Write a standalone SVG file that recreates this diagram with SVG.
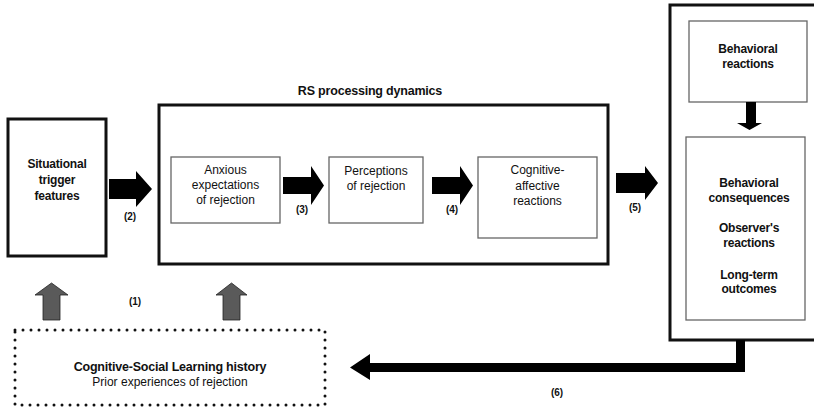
<svg xmlns="http://www.w3.org/2000/svg" width="814" height="408" viewBox="0 0 814 408">
<style>
text{font-family:"Liberation Sans",Arial,sans-serif;font-size:12px;fill:#111;text-anchor:middle}
.b{font-weight:bold;letter-spacing:-0.2px}
.thick{fill:#fff;stroke:#111;stroke-width:3}
.thin{fill:#fff;stroke:#666;stroke-width:1.3}
.arr{fill:#000}
.garr{fill:#5a5a5a;stroke:#222;stroke-width:0.8}
.lbl{font-weight:bold;font-size:10px}
</style>
<rect width="814" height="408" fill="#fff"/>
<g id="situational">
<rect class="thick" x="8" y="119" width="98" height="137"/>
<text class="b" x="57" y="168">Situational</text>
<text class="b" x="57" y="184">trigger</text>
<text class="b" x="57" y="200">features</text>
</g>
<g id="rs-processing">
<text class="b" x="370" y="95" style="font-size:12.5px">RS processing dynamics</text>
<rect class="thick" x="159" y="105" width="449" height="159"/>
</g>
<g id="anxious">
<rect class="thin" x="171" y="157" width="109" height="66"/>
<text x="225.5" y="174">Anxious</text>
<text x="225.5" y="189">expectations</text>
<text x="225.5" y="204">of rejection</text>
</g>
<g id="perceptions">
<rect class="thin" x="329" y="157" width="94" height="66"/>
<text x="376" y="175">Perceptions</text>
<text x="376" y="190">of rejection</text>
</g>
<g id="cognitive-affective">
<rect class="thin" x="478" y="157" width="119" height="81"/>
<text x="537.5" y="174">Cognitive-</text>
<text x="537.5" y="190">affective</text>
<text x="537.5" y="205">reactions</text>
</g>
<g id="outcomes-panel">
<rect class="thick" x="670" y="5" width="150" height="335"/>
</g>
<g id="behavioral-reactions">
<rect class="thin" x="689" y="21" width="118" height="81"/>
<text class="b" x="748" y="53">Behavioral</text>
<text class="b" x="748" y="68">reactions</text>
</g>
<g id="consequences">
<rect class="thin" x="686" y="137" width="119" height="183"/>
<text class="b" x="749" y="187">Behavioral</text>
<text class="b" x="749" y="202">consequences</text>
<text class="b" x="749" y="232">Observer's</text>
<text class="b" x="749" y="247">reactions</text>
<text class="b" x="749" y="279">Long-term</text>
<text class="b" x="749" y="293">outcomes</text>
</g>
<g id="learning-history">
<rect x="15" y="330" width="310" height="75" fill="none" stroke="#111" stroke-width="3" stroke-linecap="round" stroke-dasharray="0 8"/>
<text class="b" x="170" y="371" style="font-size:12.5px">Cognitive-Social Learning history</text>
<text x="170" y="386">Prior experiences of rejection</text>
</g>
<g id="connectors">
<polygon class="arr" points="109,179 136,179 136,171 152,189 136,207 136,199 109,199"/>
<text class="lbl" x="130" y="220">(2)</text>
<polygon class="arr" points="283,177 311,177 311,166 324,185.5 311,205 311,194 283,194"/>
<text class="lbl" x="302" y="213">(3)</text>
<polygon class="arr" points="432,177 460,177 460,166 473,185.5 460,205 460,194 432,194"/>
<text class="lbl" x="452" y="213">(4)</text>
<polygon class="arr" points="616,173 645,173 645,166 658,183 645,200 645,193 616,193"/>
<text class="lbl" x="635" y="211">(5)</text>
<polygon class="arr" points="746,102 756,102 756,123 762,123 749.5,130 737,123 746,123"/>
<polygon class="garr" points="43,320 60,320 60,295 68,295 51.5,283 35,295 43,295"/>
<polygon class="garr" points="223,320 240,320 240,295 247,295 231.5,283 216,295 223,295"/>
<text class="lbl" x="135" y="305">(1)</text>
<polygon class="arr" points="736,340 745,340 745,372 370,372 370,380 350,367.5 370,354 370,363 736,363"/>
<text class="lbl" x="557" y="396">(6)</text>
</g>
</svg>
